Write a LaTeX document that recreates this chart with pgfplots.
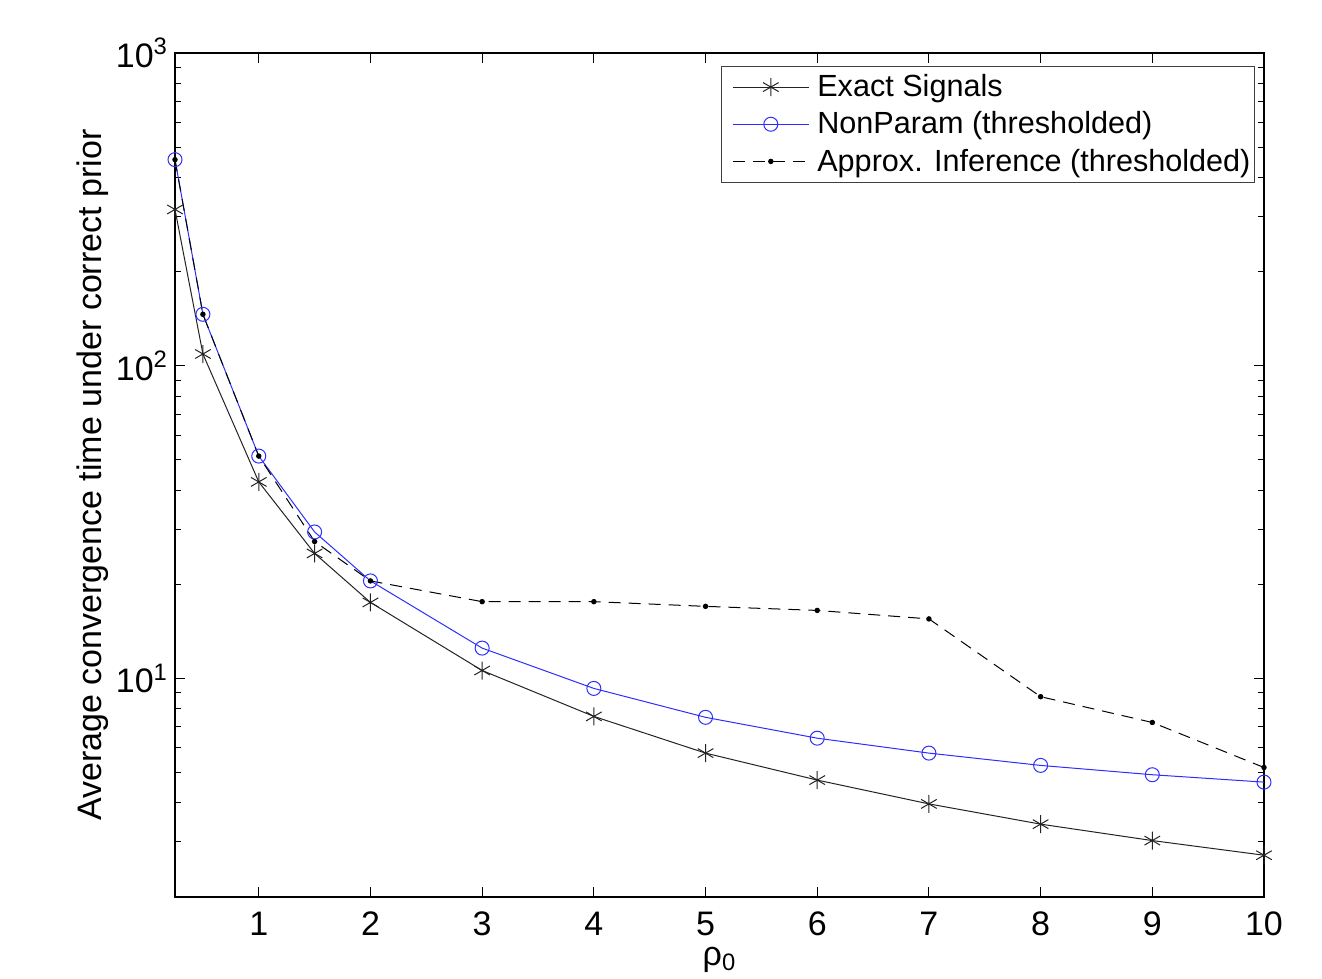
\documentclass[border=0pt]{standalone}
\usepackage{fontspec}
\setmainfont{Liberation Sans}
\usepackage{pgfplots}
\pgfplotsset{compat=1.18}
\definecolor{npblue}{RGB}{45,45,255}
\definecolor{dk}{RGB}{35,35,35}
\begin{document}
\begin{tikzpicture}
\useasboundingbox (-87.5pt,-41pt) rectangle (573.5pt,448.5pt);
\begin{axis}[
  scale only axis, width=544.5pt, height=422pt,
  xmin=0.25, xmax=10, ymode=log, ymin=2, ymax=1000,
  xtick={1,2,3,4,5,6,7,8,9,10}, xticklabels={1,2,3,4,5,6,7,8,9,10},
  ytick={10,100,1000},
  yticklabels={10\textsuperscript{1},10\textsuperscript{2},10\textsuperscript{3}},
  minor ytick={2,3,4,5,6,7,8,9,20,30,40,50,60,70,80,90,200,300,400,500,600,700,800,900},
  tick align=inside, major tick length=5pt, minor tick length=3pt,
  tick style={black, line width=0.5pt},
  axis line style={black, line width=0.6pt},
  tick label style={font=\fontsize{17}{20}\selectfont},
  xticklabel style={yshift=-4pt},
  label style={font=\fontsize{17}{20}\selectfont},
  xlabel={ρ\textsubscript{0}},
  ylabel={Average convergence time under correct prior},
  xlabel style={at={(axis description cs:0.5,0)}, anchor=center, yshift=-31.5pt},
  ylabel style={at={(axis description cs:-0.076,0.5)}, anchor=center},
  legend style={at={(axis description cs:1,1)}, xshift=-4.5pt, yshift=-6.5pt, anchor=north east,
    draw=black!75, line width=0.5pt, font=\fontsize{15.3}{18}\selectfont, row sep=2pt,
    column sep=2pt, inner xsep=0pt, inner ysep=2pt},
  legend cell align=left,
  legend image code/.code={\path (-5.5pt,0pt); \draw[mark repeat=2,mark phase=2,#1] plot coordinates {(0pt,0pt) (19pt,0pt) (38pt,0pt)};},
]
\addplot[dk, line width=0.5pt, mark=asterisk, mark size=4.5pt] coordinates {
(0.25,316) (0.5,109) (1,42.5) (1.5,25.1) (2,17.5) (3,10.6) (4,7.56) (5,5.77) (6,4.73) (7,3.97) (8,3.42) (9,3.03) (10,2.72)};
\addlegendentry{Exact Signals}
\addplot[npblue, line width=0.5pt, mark=o, mark size=3.5pt] coordinates {
(0.25,456) (0.5,146) (1,51.4) (1.5,29.4) (2,20.5) (3,12.5) (4,9.29) (5,7.51) (6,6.44) (7,5.77) (8,5.27) (9,4.92) (10,4.66)};
\addlegendentry{NonParam (thresholded)}
\addplot[black, line width=0.5pt, dash pattern=on 6pt off 4pt, mark=*, mark size=1.1pt, mark options={solid}] coordinates {
(0.25,456) (0.5,146) (1,51.4) (1.5,27.4) (2,20.5) (3,17.6) (4,17.6) (5,17.0) (6,16.5) (7,15.5) (8,8.74) (9,7.23) (10,5.19)};
\addlegendentry{Approx. Inference (thresholded)}
\end{axis}
\end{tikzpicture}
\end{document}
